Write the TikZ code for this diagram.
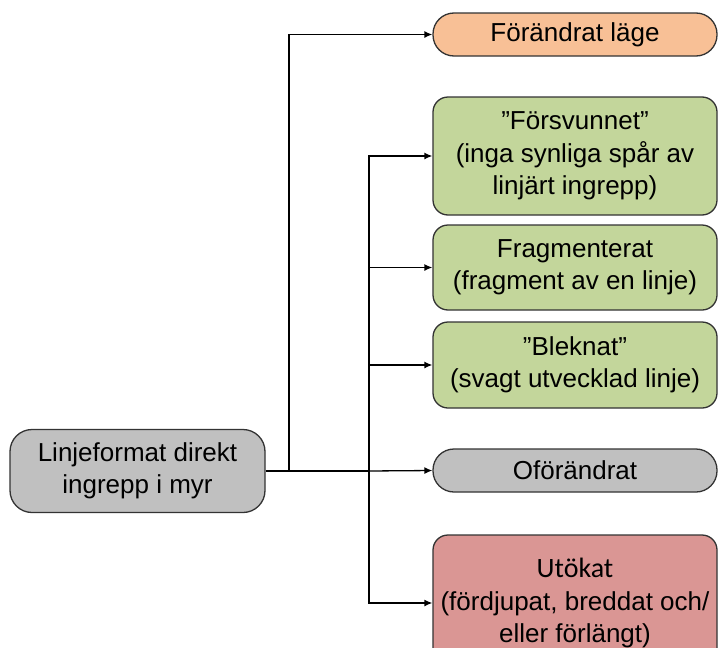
\documentclass[tikz,border=0pt]{standalone}
\usepackage{fontspec}
\setmainfont{Liberation Sans}
\newfontfamily\carlito{Carlito}
\usepackage{tikz}
\usetikzlibrary{arrows.meta}
\definecolor{boxorange}{RGB}{248, 192, 150}
\definecolor{boxgreen}{RGB}{195, 214, 155}
\definecolor{boxgray}{RGB}{192, 192, 192}
\definecolor{boxred}{RGB}{218, 150, 148}

\begin{document}
\begin{tikzpicture}[x=1pt, y=-1pt,
  box/.style={draw=black!80, line width=1.3pt, rounded corners=15pt, inner sep=0pt,
    minimum width=284pt, align=center, font=\fontsize{26}{32.5}\selectfont},
  pill/.style={box, rounded corners=21pt, minimum height=43pt},
  arr/.style={line width=1.3pt, -{Latex[length=8pt, width=7pt]}}]
  \useasboundingbox (0, 0) rectangle (718, 648);
  \clip (0, 0) rectangle (718, 648);

  \node[box, fill=boxgray, minimum width=255pt, minimum height=83pt, rounded corners=22pt]
    (src) at (137.5, 471) {Linjeformat direkt\\ingrepp i myr};

  \node[pill, fill=boxorange] (lage) at (575, 34.5) {Förändrat läge};
  \node[box, fill=boxgreen, minimum height=118pt] (forsv) at (575, 156)
    {"Försvunnet"\\(inga synliga spår av\\linjärt ingrepp)};
  \node[box, fill=boxgreen, minimum height=85pt] (frag) at (575, 267.5)
    {Fragmenterat\\(fragment av en linje)};
  \node[box, fill=boxgreen, minimum height=86pt] (blek) at (575, 365)
    {"Bleknat"\\(svagt utvecklad linje)};
  \node[pill, fill=boxgray] (ofor) at (575, 470.5) {Oförändrat};
  \node[box, fill=boxred, minimum height=136pt] (utok) at (575, 603)
    {{\carlito\fontsize{28}{32.5}\selectfont Utökat}\\(fördjupat, breddat och/\\eller förlängt)};

  \coordinate (j1) at (289, 471);
  \coordinate (j2) at (369, 471);

  \draw [line width=2.6pt] (src.east) -- (j2);
  \draw [arr] (j1) |- (lage.west);
  \draw [arr] (j2) |- (forsv.west);
  \draw [arr] (j2) |- (frag.west);
  \draw [arr] (j2) |- (blek.west);
  \draw [arr] (j2) -- (ofor.west);
  \draw [arr] (j2) |- (utok.west);
\end{tikzpicture}
\end{document}
